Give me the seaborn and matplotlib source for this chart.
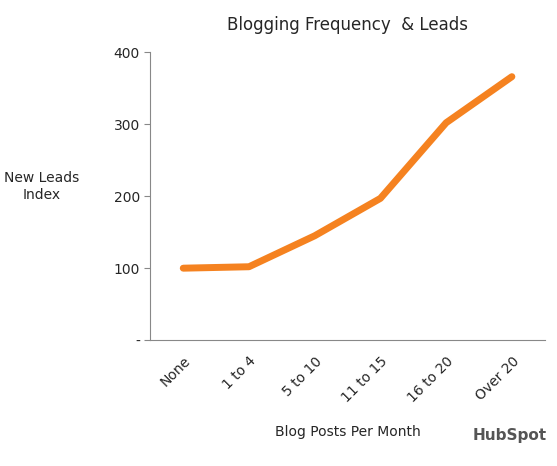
import numpy as np
import matplotlib
matplotlib.use("Agg")
import matplotlib.pyplot as plt
import seaborn as sns

categories = ["None", "1 to 4", "5 to 10", "11 to 15", "16 to 20", "Over 20"]
leads = [100, 102, 145, 197, 302, 366]

sns.set_style("white")
plt.rcParams['font.family'] = ['DejaVu Sans']

fig = plt.figure(figsize=(5.57, 4.66), dpi=100)
ax = fig.add_axes([0.27, 0.27, 0.708, 0.618])
sns.lineplot(x=np.arange(len(categories)), y=leads, ax=ax, color="#F58220", linewidth=5)

ax.set_xlim(-0.5, 5.5)
ax.set_ylim(0, 400)
ax.set_yticks([0, 100, 200, 300, 400])
ax.set_yticklabels(["-", "100", "200", "300", "400"], fontsize=10)
ax.set_xticks(np.arange(len(categories)))
ax.set_xticklabels(categories, rotation=45, ha="right", rotation_mode="anchor", fontsize=10)
ax.set_xticks(np.arange(-0.5, 6, 1), minor=True)
ax.tick_params(axis="x", which="major", length=0, pad=10)
ax.tick_params(axis="x", which="minor", length=4, color="#888888", direction="out")
ax.tick_params(axis="y", length=4, color="#888888", direction="out", left=True)
for s in ["top", "right"]:
    ax.spines[s].set_visible(False)
for s in ["left", "bottom"]:
    ax.spines[s].set_color("#888888")

ax.set_title("Blogging Frequency  & Leads", fontsize=12, pad=16)
ax.set_xlabel("Blog Posts Per Month", fontsize=10, labelpad=14)
fig.text(0.075, 0.6, "New Leads\nIndex", fontsize=10, ha="center", va="center")
fig.text(0.915, 0.055, "HubSpot", fontsize=11, fontweight="bold", color="#555555", ha="center")

fig.savefig("out.png", dpi=100)
